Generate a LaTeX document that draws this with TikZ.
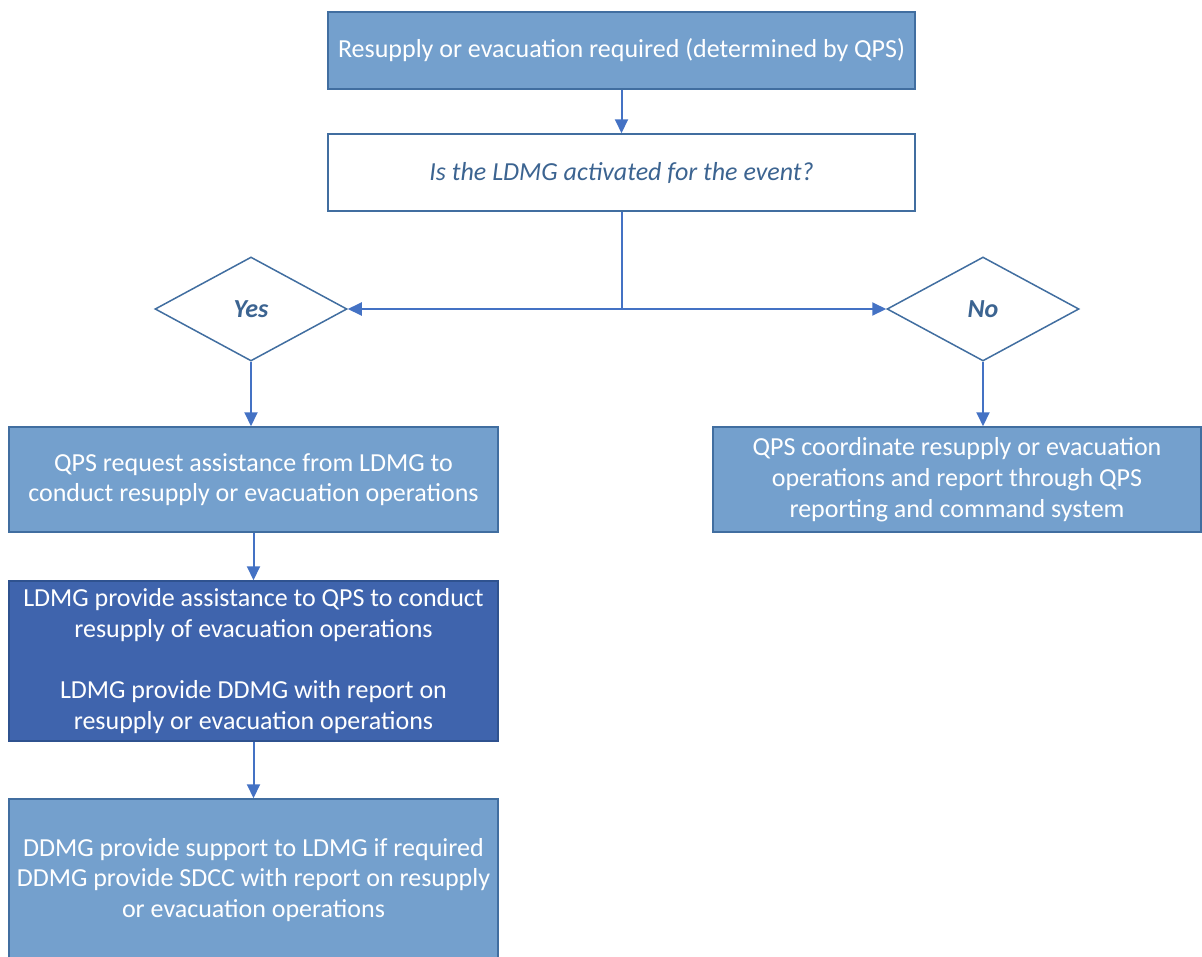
\documentclass[tikz,border=0pt]{standalone}
\usepackage{fontspec}
\setmainfont{Carlito}
\usetikzlibrary{shapes.geometric,arrows.meta}
\definecolor{lightfill}{RGB}{116,160,205}
\definecolor{lightdraw}{RGB}{65,110,160}
\definecolor{darkfill}{RGB}{63,100,173}
\definecolor{darkdraw}{RGB}{47,82,143}
\definecolor{conn}{RGB}{68,114,196}
\definecolor{qtext}{RGB}{60,100,145}
\tikzset{
  base/.style={rectangle, inner sep=0pt, align=center, font=\fontsize{26}{30.7}\selectfont, line width=1.5pt},
  lightbox/.style={base, fill=lightfill, draw=lightdraw, text=white},
  darkbox/.style={base, fill=darkfill, draw=darkdraw, text=white},
  qbox/.style={base, fill=white, draw=lightdraw, text=qtext, font=\fontsize{26}{30.7}\selectfont\itshape},
  decide/.style={diamond, aspect=1.846, inner sep=0pt, minimum width=192pt, minimum height=104pt, draw=lightdraw, line width=1.5pt, fill=white, text=qtext, font=\fontsize{26}{30.7}\selectfont\bfseries\itshape},
  link/.style={draw=conn, line width=2pt},
  arr/.style={link, -{Triangle[length=14pt,width=13pt]}}
}
\begin{document}
\begin{tikzpicture}[x=1pt,y=-1pt]
\useasboundingbox (0,0) rectangle (1202,956);
\clip (0,0) rectangle (1202,956);
\node[lightbox, minimum width=587pt, minimum height=77pt] (top) at (621.5,50.5) {\raisebox{-2pt}{Resupply or evacuation required (determined by QPS)}};
\node[qbox, minimum width=587pt, minimum height=77pt] (q) at (621.5,172.5) {\raisebox{-2pt}{Is the LDMG activated for the event?}};
\node[decide] (yes) at (251,309) {Yes};
\node[decide] (no) at (983,309) {No};
\coordinate (j) at (621.5,309);
\node[lightbox, minimum width=489pt, minimum height=105pt] (req) at (253.5,479.5) {QPS request assistance from LDMG to\\conduct resupply or evacuation operations};
\node[lightbox, minimum width=488pt, minimum height=105pt] (qps) at (957,479.5) {QPS coordinate resupply or evacuation\\operations and report through QPS\\reporting and command system};
\node[darkbox, minimum width=489pt, minimum height=160pt] (ldmg) at (253.5,661) {LDMG provide assistance to QPS to conduct\\resupply of evacuation operations\\[30.7pt]LDMG provide DDMG with report on\\resupply or evacuation operations};
\node[lightbox, minimum width=489pt, minimum height=162pt] (ddmg) at (253.5,880) {DDMG provide support to LDMG if required\\DDMG provide SDCC with report on resupply\\or evacuation operations};
\draw[arr] (top.south) -- (q.north);
\draw[link] (q.south) -- (j);
\draw[arr] (j) -- (yes.east);
\draw[arr] (j) -- (no.west);
\draw[arr] (yes.south) -- (yes.south |- req.north);
\draw[arr] (no.south) -- (no.south |- qps.north);
\draw[arr] (req.south) -- (ldmg.north);
\draw[arr] (ldmg.south) -- (ddmg.north);
\end{tikzpicture}
\end{document}
